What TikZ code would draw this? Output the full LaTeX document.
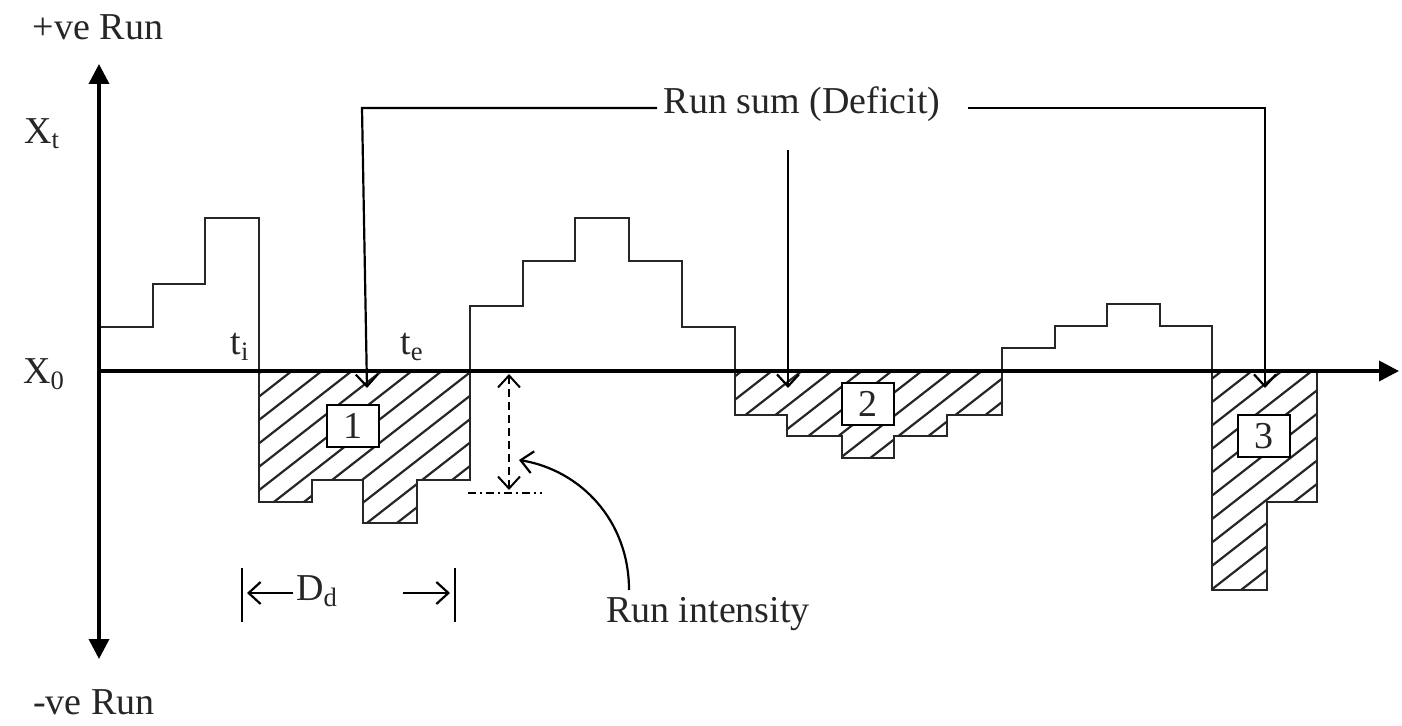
\documentclass[tikz,border=0pt]{standalone}
\usepackage{fontspec}
\setmainfont{Liberation Serif}
\usetikzlibrary{arrows.meta}
\begin{document}
\begin{tikzpicture}[x=0.5pt,y=-0.5pt,
  lbl/.style={font=\fontsize{19}{22}\selectfont, inner sep=0pt, text=black!85},
  numbox/.style={lbl, draw=black, fill=white, line width=1pt, minimum width=26pt, minimum height=21pt},
  stepline/.style={line width=1pt, line join=miter, draw=black!85},
  axisline/.style={line width=1.8pt, -{Triangle[length=10pt,width=10pt]}},
  barb/.style={line width=1.1pt, -{Straight Barb[length=6pt,width=11pt,line width=1.1pt]}},
  hatch/.style={line width=1.1pt, draw=black!85},
  dimline/.style={line width=1pt}
]
\useasboundingbox (0,0) rectangle (1402,726);

% hatched deficit regions
\begin{scope}
  \clip (259,371) -- (259,502) -- (312,502) -- (312,480) -- (363,480) -- (363,523) -- (417,523) -- (417,480) -- (470,480) -- (470,371) -- cycle;
  \foreach \s in {-400,-370,...,1500} \draw[hatch] (\s,700) -- ++(700,-546);
\end{scope}
\begin{scope}
  \clip (735,371) -- (735,415) -- (787,415) -- (787,436) -- (842,436) -- (842,458) -- (894,458) -- (894,436) -- (947,436) -- (947,415) -- (1002,415) -- (1002,371) -- cycle;
  \foreach \s in {-400,-370,...,1500} \draw[hatch] (\s,700) -- ++(700,-546);
\end{scope}
\begin{scope}
  \clip (1212,371) -- (1212,590) -- (1267,590) -- (1267,502) -- (1317,502) -- (1317,371) -- cycle;
  \foreach \s in {-400,-370,...,1500} \draw[hatch] (\s,700) -- ++(700,-546);
\end{scope}

% step series
\draw[stepline] (99,327) -- (153,327) -- (153,284) -- (205,284) -- (205,218) -- (259,218)
  -- (259,502) -- (312,502) -- (312,480) -- (363,480) -- (363,523) -- (417,523) -- (417,480) -- (470,480)
  -- (470,306) -- (523,306) -- (523,261) -- (575,261) -- (575,218) -- (629,218) -- (629,261) -- (682,261)
  -- (682,327) -- (735,327) -- (735,415) -- (787,415) -- (787,436) -- (842,436) -- (842,458) -- (894,458)
  -- (894,436) -- (947,436) -- (947,415) -- (1002,415) -- (1002,348) -- (1055,348) -- (1055,326)
  -- (1107,326) -- (1107,304) -- (1160,304) -- (1160,326) -- (1212,326) -- (1212,590) -- (1267,590)
  -- (1267,502) -- (1317,502) -- (1317,371);

% axes
\coordinate (o) at (99,371);
\coordinate (xend) at (1399,371);
\coordinate (ytop) at (99,64);
\coordinate (ybot) at (99,659);
\draw[axisline] (o) -- (xend);
\draw[axisline] (o) -- (ytop);
\draw[axisline] (o) -- (ybot);

% numbered boxes
\node[numbox] (b1) at (352.5,426) {1};
\node[numbox] (b2) at (867.5,404) {2};
\node[numbox] (b3) at (1263.5,436) {3};

% labels
\node[lbl] (pos) at (98,27) {+ve Run};
\node[lbl] (neg) at (94,702) {-ve Run};
\node[lbl] (xt) at (42,134) {X\textsubscript{t}};
\node[lbl] (x0) at (44,374) {X\textsubscript{0}};
\node[lbl] (ti) at (240,347) {t\textsubscript{i}};
\node[lbl] (te) at (412,347) {t\textsubscript{e}};
\node[lbl] (rs) at (802,104) {Run sum (Deficit)};
\node[lbl] (ri) at (708,614) {Run intensity};
\node[lbl] (dd) at (317,591) {D\textsubscript{d}};

% run sum connectors
\coordinate (rsl) at (657,108);
\coordinate (rscl) at (362,108);
\coordinate (a1) at (367,388);
\coordinate (rsr) at (968,108);
\coordinate (rscr) at (1265,108);
\coordinate (a3) at (1265,388);
\coordinate (m0) at (788,150);
\coordinate (a2) at (788,388);
\draw[barb, line join=miter] (rsl) -- (rscl) -- (a1);
\draw[barb, line join=miter] (rsr) -- (rscr) -- (a3);
\draw[barb] (m0) -- (a2);

% run intensity
\coordinate (ri1) at (509,374);
\coordinate (ri2) at (509,490);
\coordinate (dl1) at (468,493);
\coordinate (dl2) at (542,493);
\coordinate (cs) at (629,590);
\coordinate (ce) at (519,460);
\draw[line width=1pt, dash pattern=on 4pt off 2.5pt,
  {Straight Barb[length=6pt,width=11pt,line width=1pt]}-{Straight Barb[length=6pt,width=11pt,line width=1pt]}] (ri1) -- (ri2);
\draw[line width=1pt, dash pattern=on 4pt off 2pt on 1pt off 2pt] (dl1) -- (dl2);
\draw[barb] (cs) .. controls (629,520) and (580,470) .. (ce);

% duration
\coordinate (lb1) at (242,568);
\coordinate (lb2) at (242,622);
\coordinate (rb1) at (455,568);
\coordinate (rb2) at (455,622);
\coordinate (la0) at (293,593);
\coordinate (la1) at (247,593);
\coordinate (ra0) at (403,593);
\coordinate (ra1) at (450,593);
\draw[dimline] (lb1) -- (lb2);
\draw[dimline] (rb1) -- (rb2);
\draw[barb] (la0) -- (la1);
\draw[barb] (ra0) -- (ra1);
\end{tikzpicture}
\end{document}
